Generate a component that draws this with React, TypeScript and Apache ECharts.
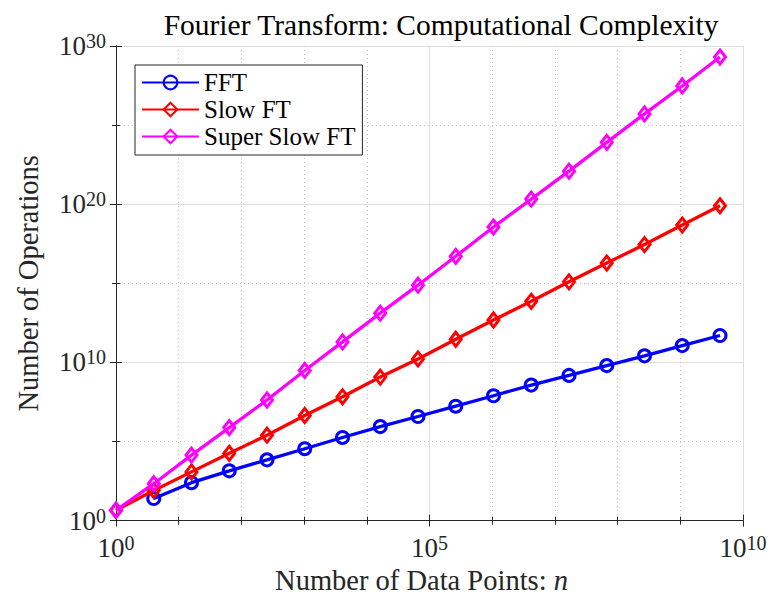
import React, { useEffect, useRef } from "react";
import * as echarts from "echarts";

// Number of data points n (x values)
const nValues = [
  1, 4, 16, 64, 256, 1024, 4096, 16384, 65536, 262144, 1048576, 4194304,
  16777216, 67108864, 268435456, 1073741824, 4294967296,
];
// Number of operations (FFT has no point at n = 1)
const fftOps = [
  null, 25, 250, 1.4e3, 6.9e3, 3.5e4, 1.8e5, 8.8e5, 3.8e6, 1.7e7, 7.8e7,
  3.7e8, 1.5e9, 6.3e9, 2.6e10, 1.15e11, 5.0e11,
];
const slowOps = [
  4.5, 79, 1.2e3, 1.8e4, 2.5e5, 4.4e6, 6.7e7, 1.18e9, 1.66e10, 2.9e11,
  4.8e12, 7.3e13, 1.24e15, 1.9e16, 2.8e17, 4.8e18, 7.9e19,
];
const superSlowOps = [
  4.5, 215, 1.38e4, 7.6e5, 4.2e7, 3.1e9, 1.97e11, 1.3e13, 7.6e14, 5.1e16,
  3.6e18, 2.1e20, 1.23e22, 8.1e23, 5.1e25, 2.97e27, 2.0e29,
];
const seriesNames = ["FFT", "Slow FT", "Super Slow FT"];
const seriesColors = ["#0000ff", "#ff0000", "#ff00ff"];
const xExpRange = [0, 10];
const yExpRange = [0, 30];

const FONT = "Liberation Serif";
const AXIS_COLOR = "#262626";

function toPairs(ys: (number | null)[]) {
  const out: number[][] = [];
  ys.forEach((y, i) => {
    if (y != null) out.push([Math.log10(nValues[i]), Math.log10(y)]);
  });
  return out;
}

const rich = {
  b: { fontFamily: FONT, fontSize: 27, color: AXIS_COLOR, lineHeight: 30 },
  s: {
    fontFamily: FONT,
    fontSize: 20,
    color: AXIS_COLOR,
    lineHeight: 30,
    verticalAlign: "top",
  },
};
const powLabel = (v: number) => `{b|10}{s|${Math.round(v)}}`;

export default function App() {
  const ref = useRef<HTMLDivElement>(null);
  useEffect(() => {
    if (!ref.current) return;
    const chart = echarts.init(ref.current, undefined, { renderer: "svg" });

    const tickCommon = {
      axisLine: { show: true, lineStyle: { color: AXIS_COLOR, width: 1 } },
      axisTick: {
        show: true,
        inside: true,
        length: 6,
        lineStyle: { color: AXIS_COLOR, width: 1 },
      },
    };

    const symbols = ["circle", "diamond", "diamond"];
    const sizes: any[] = [12, [11, 14], [11, 14]];
    const datasets = [fftOps, slowOps, superSlowOps];

    chart.setOption({
      animation: false,
      title: {
        text: "Fourier Transform: Computational Complexity",
        left: 436,
        top: 5,
        textAlign: "center",
        textStyle: {
          fontFamily: FONT,
          fontSize: 29.5,
          fontWeight: "normal",
          color: "#000",
        },
      },
      grid: { left: 116, top: 46, width: 627, height: 481.5, containLabel: false },
      legend: {
        orient: "vertical",
        left: 135,
        top: 65,
        itemWidth: 57,
        itemHeight: 17,
        itemGap: 0,
        padding: [4, 7, 5, 6],
        borderColor: AXIS_COLOR,
        borderWidth: 1,
        backgroundColor: "#fff",
        textStyle: { fontFamily: FONT, fontSize: 25, color: "#000", lineHeight: 27 },
        data: seriesNames,
      },
      xAxis: [
        {
          type: "value",
          position: "bottom",
          min: xExpRange[0],
          max: xExpRange[1],
          interval: 5,
          ...tickCommon,
          minorTick: {
            show: true,
            splitNumber: 5,
            length: 4,
            lineStyle: { color: AXIS_COLOR, width: 1 },
          },
          splitLine: { show: true, lineStyle: { color: "#dedede", width: 1 } },
          minorSplitLine: {
            show: true,
            lineStyle: { color: "#c4c4c4", width: 1, type: [1, 3] },
          },
          axisLabel: { formatter: powLabel, rich, margin: 12 },
          name: "Number of Data Points: {i|n}",
          nameLocation: "middle",
          nameGap: 45,
          nameTextStyle: {
            fontFamily: FONT,
            fontSize: 28.5,
            color: AXIS_COLOR,
            padding: [0, 16, 0, 0],
            rich: {
              i: { fontFamily: FONT, fontSize: 28.5, fontStyle: "italic", color: AXIS_COLOR },
            },
          },
        },
        {
          type: "value",
          position: "top",
          min: xExpRange[0],
          max: xExpRange[1],
          interval: 5,
          ...tickCommon,
          minorTick: {
            show: true,
            splitNumber: 5,
            length: 4,
            lineStyle: { color: AXIS_COLOR, width: 1 },
          },
          splitLine: { show: false },
          axisLabel: { show: false },
        },
      ],
      yAxis: [
        {
          type: "value",
          position: "left",
          min: yExpRange[0],
          max: yExpRange[1],
          interval: 10,
          ...tickCommon,
          minorTick: {
            show: true,
            splitNumber: 2,
            length: 4,
            lineStyle: { color: AXIS_COLOR, width: 1 },
          },
          splitLine: { show: true, lineStyle: { color: "#dedede", width: 1 } },
          minorSplitLine: {
            show: true,
            lineStyle: { color: "#c4c4c4", width: 1, type: [1, 3] },
          },
          axisLabel: { formatter: powLabel, rich, margin: 10 },
          name: "Number of Operations",
          nameLocation: "middle",
          nameGap: 73,
          nameTextStyle: { fontFamily: FONT, fontSize: 28.5, color: AXIS_COLOR },
        },
        {
          type: "value",
          position: "right",
          min: yExpRange[0],
          max: yExpRange[1],
          interval: 10,
          ...tickCommon,
          minorTick: {
            show: true,
            splitNumber: 2,
            length: 4,
            lineStyle: { color: AXIS_COLOR, width: 1 },
          },
          splitLine: { show: false },
          axisLabel: { show: false },
        },
      ],
      series: seriesNames.map((name, i) => ({
        name,
        type: "line",
        xAxisIndex: 0,
        yAxisIndex: 0,
        data: toPairs(datasets[i]),
        symbol: symbols[i],
        symbolSize: sizes[i],
        clip: false,
        lineStyle: { color: seriesColors[i], width: 3.3 },
        itemStyle: {
          color: "rgba(0,0,0,0)",
          borderColor: seriesColors[i],
          borderWidth: 3,
        },
        emphasis: { disabled: true },
        z: 2 + i,
      })),
    });
    return () => chart.dispose();
  }, []);
  return (
    <div
      ref={ref}
      style={{ position: "absolute", left: 0, top: 0, width: 771, height: 600 }}
    />
  );
}
